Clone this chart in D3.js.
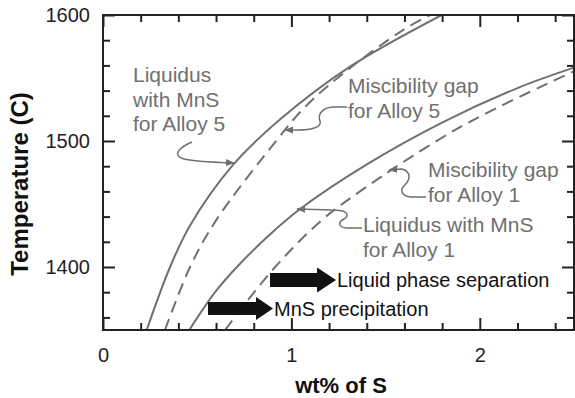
<!DOCTYPE html>
<html>
<head>
<meta charset="utf-8">
<script src="https://cdn.jsdelivr.net/npm/d3@7"></script>
<style>
  body { margin: 0; background: #fff; }
  .tick text { font-family: "Liberation Sans", Arial, sans-serif; font-size: 20px; fill: #222; }
  .note { font-family: "Liberation Sans", Arial, sans-serif; font-size: 21px; fill: #707070; }
  .bignote { font-family: "Liberation Sans", Arial, sans-serif; font-size: 20px; fill: #111; }
  .axlabel { font-family: "Liberation Sans", Arial, sans-serif; font-weight: bold; fill: #111; }
</style>
</head>
<body>
<div id="chart"></div>
<script>
// liquidus with MnS, alloy 5 (solid)
var liq5Wt = [0.232, 0.356, 0.462, 0.690, 0.939, 1.311, 1.798];
var liq5T  = [1350, 1400, 1433, 1481, 1517, 1559, 1600];
// miscibility gap, alloy 5 (dashed)
var mis5Wt = [0.329, 0.462, 0.600, 0.924, 1.072, 1.295, 1.592, 1.736];
var mis5T  = [1350, 1400, 1437, 1501, 1527, 1556, 1588, 1600];
// liquidus with MnS, alloy 1 (solid)
var liq1Wt = [0.458, 0.600, 0.717, 0.880, 1.046, 1.407, 1.805, 2.200, 2.495];
var liq1T  = [1350, 1381, 1401, 1425, 1446, 1482, 1515, 1542, 1558];
// miscibility gap, alloy 1 (dashed)
var mis1Wt = [0.648, 0.902, 1.152, 1.364, 1.895, 2.495];
var mis1T  = [1350, 1398, 1436, 1460, 1511, 1555];

var xMajor = [0, 1, 2];
var xMinor = [0.2, 0.4, 0.6, 0.8, 1.2, 1.4, 1.6, 1.8, 2.2, 2.4];
var yMajor = [1400, 1500, 1600];
var yMinor = [1360, 1380, 1420, 1440, 1460, 1480, 1520, 1540, 1560, 1580];

var w = 575, h = 398;
var margin = {top: 15, left: 103, right: 1, bottom: 68};

var svg = d3.select("#chart").append("svg")
    .attr("width", w)
    .attr("height", h);

var x = d3.scaleLinear().domain([0, 2.5]).range([margin.left, w - margin.right]);
var y = d3.scaleLinear().domain([1350, 1600]).range([h - margin.bottom, margin.top]);

var gray = "#707070";

svg.append("defs").append("clipPath").attr("id", "clip")
    .append("rect")
    .attr("x", x(0)).attr("y", y(1600))
    .attr("width", x(2.5) - x(0)).attr("height", y(1350) - y(1600));

svg.select("defs").append("marker")
    .attr("id", "head")
    .attr("viewBox", "0 0 10 10")
    .attr("refX", 9).attr("refY", 5)
    .attr("markerWidth", 9).attr("markerHeight", 9)
    .attr("markerUnits", "userSpaceOnUse")
    .attr("orient", "auto")
    .append("path")
    .attr("d", "M0,1 L10,5 L0,9 Z")
    .attr("fill", gray);

// curves
var line = d3.line()
    .x(function(d) { return x(d[0]); })
    .y(function(d) { return y(d[1]); })
    .curve(d3.curveCatmullRom.alpha(0.5));

var series = [
    {wt: liq5Wt, t: liq5T, dash: null},
    {wt: mis5Wt, t: mis5T, dash: "12,7"},
    {wt: liq1Wt, t: liq1T, dash: null},
    {wt: mis1Wt, t: mis1T, dash: "12,7"}
];

svg.append("g").attr("clip-path", "url(#clip)")
    .selectAll("path")
    .data(series)
    .enter()
    .append("path")
    .attr("d", function(s) { return line(d3.zip(s.wt, s.t)); })
    .attr("fill", "none")
    .attr("stroke", gray)
    .attr("stroke-width", 2)
    .attr("stroke-dasharray", function(s) { return s.dash; });

// axes, ticks pointing inward
function styleAxis(g) {
    g.select(".domain").remove();
    g.selectAll(".tick line").attr("stroke", "#222").attr("stroke-width", 2);
}

svg.append("g").attr("transform", "translate(0," + y(1350) + ")")
    .call(d3.axisBottom(x).tickValues(xMajor).tickSize(-12).tickPadding(18).tickFormat(d3.format("d")))
    .call(styleAxis);
svg.append("g").attr("transform", "translate(0," + y(1350) + ")")
    .call(d3.axisBottom(x).tickValues(xMinor).tickSize(-7).tickFormat(""))
    .call(styleAxis);
svg.append("g").attr("transform", "translate(0," + y(1600) + ")")
    .call(d3.axisTop(x).tickValues(xMajor).tickSize(-12).tickFormat(""))
    .call(styleAxis);
svg.append("g").attr("transform", "translate(0," + y(1600) + ")")
    .call(d3.axisTop(x).tickValues(xMinor).tickSize(-7).tickFormat(""))
    .call(styleAxis);

svg.append("g").attr("transform", "translate(" + x(0) + ",0)")
    .call(d3.axisLeft(y).tickValues(yMajor).tickSize(-12).tickPadding(13).tickFormat(d3.format("d")))
    .call(styleAxis);
svg.append("g").attr("transform", "translate(" + x(0) + ",0)")
    .call(d3.axisLeft(y).tickValues(yMinor).tickSize(-7).tickFormat(""))
    .call(styleAxis);
svg.append("g").attr("transform", "translate(" + x(2.5) + ",0)")
    .call(d3.axisRight(y).tickValues(yMajor).tickSize(-12).tickFormat(""))
    .call(styleAxis);
svg.append("g").attr("transform", "translate(" + x(2.5) + ",0)")
    .call(d3.axisRight(y).tickValues(yMinor).tickSize(-7).tickFormat(""))
    .call(styleAxis);

svg.selectAll(".tick text").attr("fill", "#222");

// frame
svg.append("path")
    .attr("d", "M" + x(0) + "," + y(1350) + "V" + y(1600) + "H" + x(2.5) + "V" + y(1350) + "Z")
    .attr("fill", "none")
    .attr("stroke", "#222")
    .attr("stroke-width", 2);

// axis titles
svg.append("text")
    .attr("class", "axlabel")
    .attr("x", 341).attr("y", 393)
    .attr("text-anchor", "middle")
    .style("font-size", "22px")
    .text("wt% of S");

svg.append("text")
    .attr("class", "axlabel")
    .attr("transform", "translate(28,184) rotate(-90)")
    .attr("text-anchor", "middle")
    .style("font-size", "24px")
    .text("Temperature (C)");

// gray annotations
var notes = [
    {x: 133, y: 82, lines: ["Liquidus", "with MnS", "for Alloy 5"]},
    {x: 348, y: 93, lines: ["Miscibility gap", "for Alloy 5"]},
    {x: 428, y: 177, lines: ["Miscibility gap", "for Alloy 1"]},
    {x: 363, y: 232, lines: ["Liquidus with MnS", "for Alloy 1"]}
];
notes.forEach(function(n) {
    n.lines.forEach(function(l, i) {
        svg.append("text").attr("class", "note")
            .attr("x", n.x).attr("y", n.y + i * 24.5).text(l);
    });
});

var leaders = [
    "M192,142 C178,148 172,156 184,159 C196,162 215,162 234,163",
    "M347,107 L333,107 C320,108 318,116 320,121 C322,127 312,130 298,130 L285,130",
    "M426,197 L411,197 C401,196 400,190 404,186 C410,180 412,172 402,169 L389,170",
    "M362,228 L346,228 C338,227 338,222 344,219 C350,215 348,210 332,210 L297,209"
];
svg.selectAll(".leader")
    .data(leaders)
    .enter()
    .append("path")
    .attr("class", "leader")
    .attr("d", function(d) { return d; })
    .attr("fill", "none")
    .attr("stroke", gray)
    .attr("stroke-width", 1.5)
    .attr("marker-end", "url(#head)");

// block arrows
var blocks = [
    {x0: 270, xb: 317, tip: 336, cy: 280, sh: 7, hh: 12.5, label: "Liquid phase separation"},
    {x0: 208, xb: 256, tip: 273, cy: 308.5, sh: 6.5, hh: 11.5, label: "MnS precipitation"}
];
blocks.forEach(function(b) {
    svg.append("path")
        .attr("d", "M" + b.x0 + "," + (b.cy - b.sh) + "H" + b.xb + "V" + (b.cy - b.hh) +
            "L" + b.tip + "," + b.cy + "L" + b.xb + "," + (b.cy + b.hh) + "V" + (b.cy + b.sh) +
            "H" + b.x0 + "Z")
        .attr("fill", "#111");
    svg.append("text")
        .attr("class", "bignote")
        .attr("x", b.tip + 1)
        .attr("y", b.cy + 7)
        .text(b.label);
});
</script>
</body>
</html>
